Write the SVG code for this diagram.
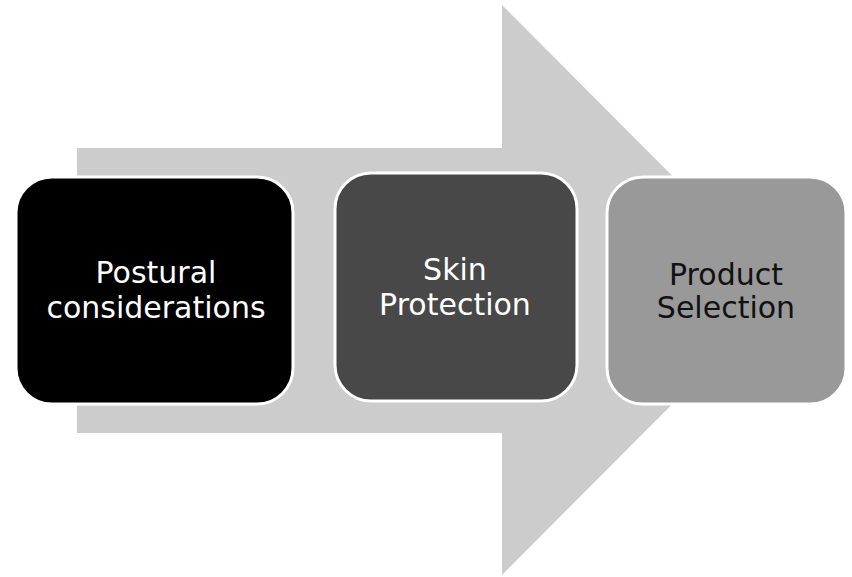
<svg xmlns="http://www.w3.org/2000/svg" width="852" height="577" viewBox="0 0 852 577">
<style>
.box{stroke:#ffffff;stroke-width:3}
.lbl{font-family:"DejaVu Sans","Verdana",sans-serif;font-size:30px;text-anchor:middle}
</style>
<rect width="852" height="577" fill="#ffffff"/>
<g id="connectors">
<polygon points="77,148 502,148 502,5 786,290 502,575 502,433 77,433" fill="#cccccc"/>
</g>
<g id="node1">
<rect class="box" x="16" y="177" width="277" height="227" rx="36" fill="#000000"/>
<text class="lbl" x="156" y="283" fill="#ffffff">Postural</text>
<text class="lbl" x="156" y="318" fill="#ffffff">considerations</text>
</g>
<g id="node2">
<rect class="box" x="335" y="173" width="242" height="228" rx="36" fill="#484848"/>
<text class="lbl" x="455" y="280" fill="#ffffff">Skin</text>
<text class="lbl" x="455" y="315" fill="#ffffff">Protection</text>
</g>
<g id="node3">
<rect class="box" x="607" y="177" width="239" height="227" rx="36" fill="#999999"/>
<text class="lbl" x="726" y="285" fill="#111111">Product</text>
<text class="lbl" x="726" y="318" fill="#111111">Selection</text>
</g>
</svg>
